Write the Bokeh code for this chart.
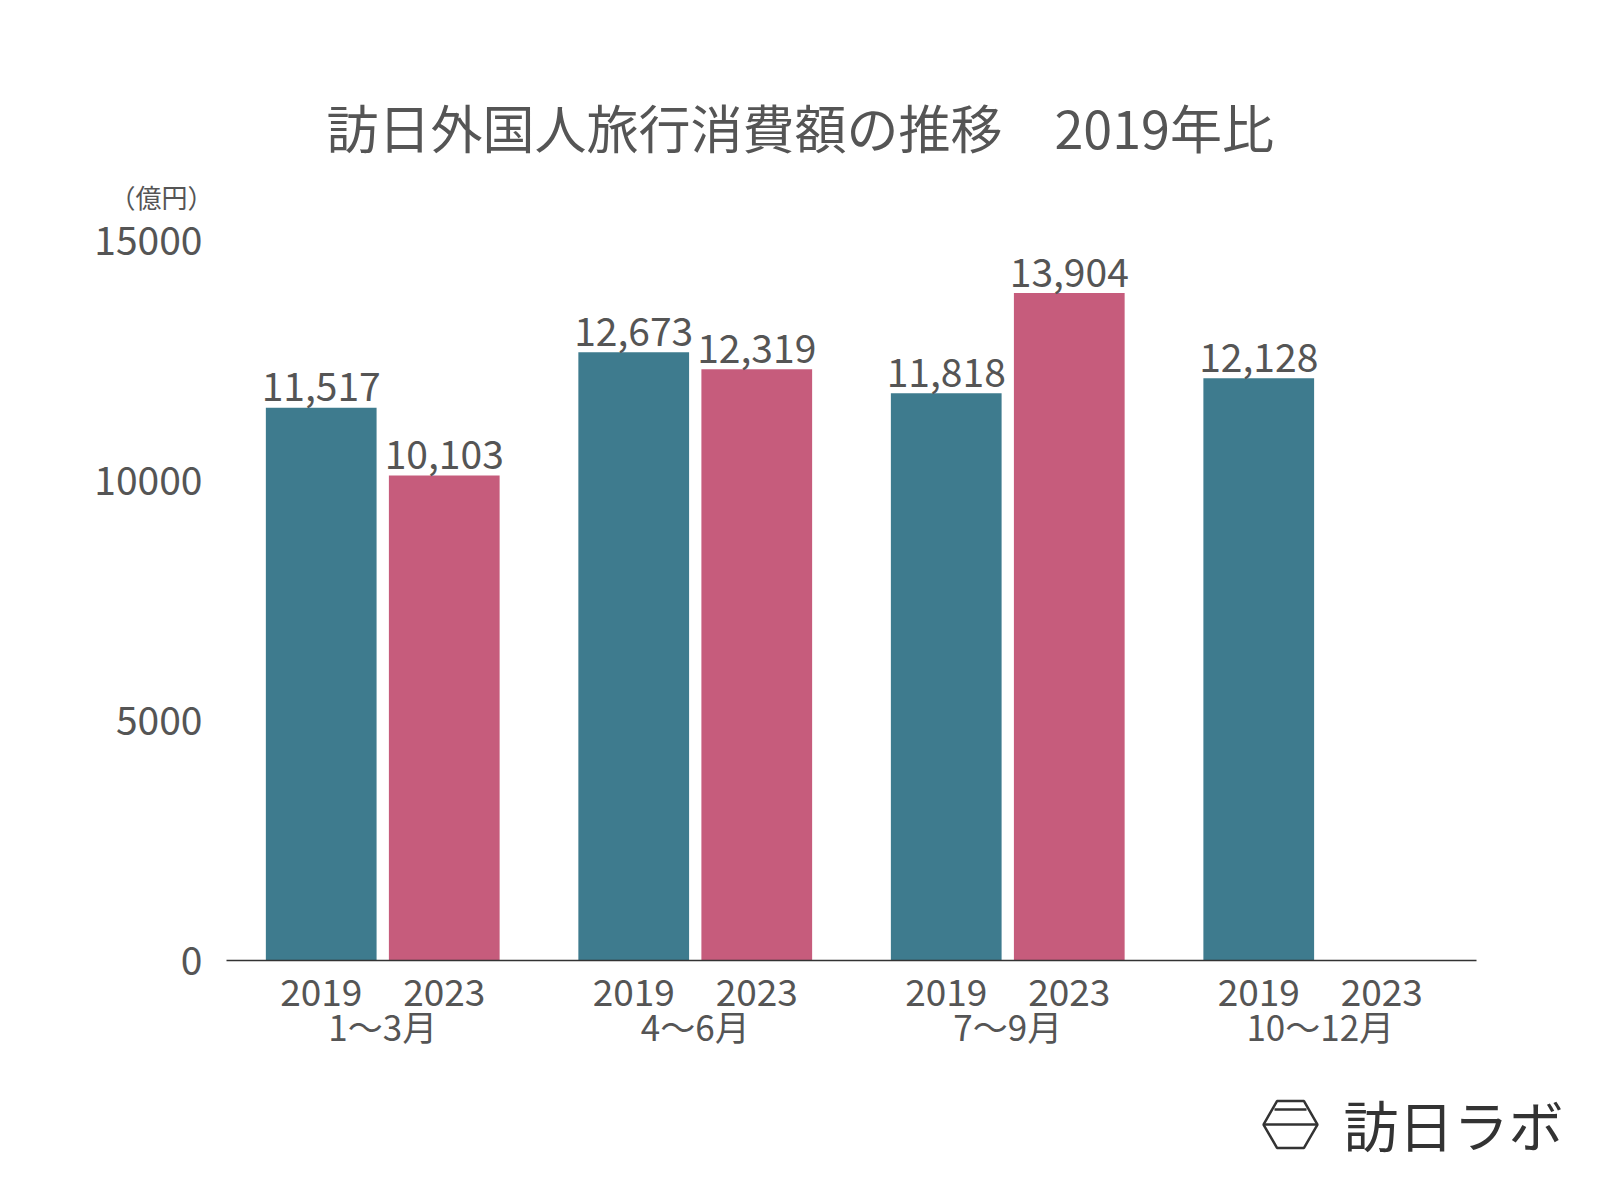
from bokeh.plotting import figure
from bokeh.models import (ColumnDataSource, FactorRange, Range1d, FixedTicker, Title,
                          CategoricalAxis, Spacer)
from bokeh.layouts import column, row
from bokeh.embed import file_html
from bokeh.resources import INLINE
from bokeh.core.properties import value

# ---- data ----
quarters = ["1〜3月", "4〜6月", "7〜9月", "10〜12月"]
years = ["2019", "2023"]
values_2019 = [11517, 12673, 11818, 12128]
values_2023 = [10103, 12319, 13904, None]
y_ticks = [0, 5000, 10000, 15000]

TEAL = "#3E7B8E"
PINK = "#C65C7C"
TXT = "#555555"
FONT = "Noto Sans CJK JP"

factors = [(q, y) for q in quarters for y in years]

bx, by, bc, bl = [], [], [], []
for q, v19, v23 in zip(quarters, values_2019, values_2023):
    for yr, v, c in (("2019", v19, TEAL), ("2023", v23, PINK)):
        if v is None:
            continue
        bx.append((q, yr))
        by.append(v)
        bc.append(c)
        bl.append(f"{v:,}")

src = ColumnDataSource(dict(x=bx, top=by, color=bc, label=bl))

W, H = 1584, 1080
FL, FR, FT, FB = 226, 1476, 216, 960
p = figure(
    x_range=FactorRange(*factors, group_padding=0.54, factor_padding=0.0,
                        range_padding=0.0561, range_padding_units="percent"),
    y_range=Range1d(0, 15500),
    width=W, height=H,
    output_backend="svg", toolbar_location=None, title=None,
    min_border_left=FL, min_border_right=W - FR,
    min_border_top=FT, min_border_bottom=H - FB,
)
p.outline_line_color = None
p.xgrid.visible = False
p.ygrid.visible = False
p.background_fill_color = "white"
p.border_fill_color = "white"

p.vbar(x="x", top="top", width=0.9, color="color", line_color=None, source=src)
p.text(x="x", y="top", text="label", source=src, text_align="center",
       text_baseline="alphabetic", y_offset=-21, text_font_size="39px",
       text_color=TXT, text_font=value(FONT))

# titles
sub = Title(text="（億円）", align="left", offset=-117, standoff=3,
            text_font_size="26px", text_color=TXT, text_font=FONT,
            text_font_style="normal")
p.add_layout(sub, "above")
main = Title(text="訪日外国人旅行消費額の推移　2019年比", align="left", offset=100,
             standoff=21, text_font_size="52px", text_color=TXT, text_font=FONT,
             text_font_style="normal")
p.add_layout(main, "above")

# y axis
ya = p.yaxis[0]
ya.ticker = FixedTicker(ticks=y_ticks)
ya.axis_line_color = None
ya.major_tick_line_color = None
ya.minor_tick_line_color = None
ya.major_tick_out = 0
ya.major_tick_in = 0
ya.major_label_standoff = 24
ya.major_label_text_font_size = "39px"
ya.major_label_text_color = TXT
ya.major_label_text_font = FONT

# x axis (years)
xa = p.xaxis[0]
xa.axis_line_color = "#333333"
xa.axis_line_width = 1.5
xa.major_tick_line_color = None
xa.minor_tick_line_color = None
xa.major_tick_out = 0
xa.major_tick_in = 0
xa.major_label_standoff = 18
xa.major_label_text_font_size = "37px"
xa.major_label_text_color = TXT
xa.major_label_text_font = FONT
xa.group_text_font_size = "1px"
xa.group_text_color = None
xa.separator_line_color = None

# second axis (quarters)
p.extra_x_ranges = {"grp": FactorRange(*quarters, factor_padding=0.0, range_padding=0.0)}
ga = CategoricalAxis(x_range_name="grp")
ga.axis_line_color = None
ga.major_tick_line_color = None
ga.minor_tick_line_color = None
ga.major_tick_out = 0
ga.major_tick_in = 0
ga.major_label_standoff = -9
ga.major_label_text_font_size = "35px"
ga.major_label_text_color = TXT
ga.major_label_text_font = FONT
ga.separator_line_color = None
p.add_layout(ga, "below")

# logo (decoration)
LW, LH = 340, 100
LOGO = "#333333"
logo = figure(width=LW, height=LH, x_range=Range1d(0, LW), y_range=Range1d(0, LH),
              output_backend="svg", toolbar_location=None,
              min_border_left=0, min_border_right=0,
              min_border_top=0, min_border_bottom=0)
logo.axis.visible = False
logo.xgrid.visible = False
logo.ygrid.visible = False
logo.outline_line_color = None
logo.background_fill_color = "white"
logo.scatter(x=[50], y=[56], marker="hex", size=54, fill_color=None,
             line_color=LOGO, line_width=2.5)
logo.scatter(x=[50, 50], y=[56, 71], marker="dash", size=[54, 32],
             line_color=LOGO, line_width=2.5)
logo.text(x=[103], y=[58], text=["訪日ラボ"], text_baseline="middle",
          text_align="left", text_font_size="55px", text_color=LOGO,
          text_font=value(FONT))

layout = column(p, row(Spacer(width=1240, height=LH), logo, spacing=0), spacing=0)
open("out.html", "w").write(file_html(layout, INLINE))
